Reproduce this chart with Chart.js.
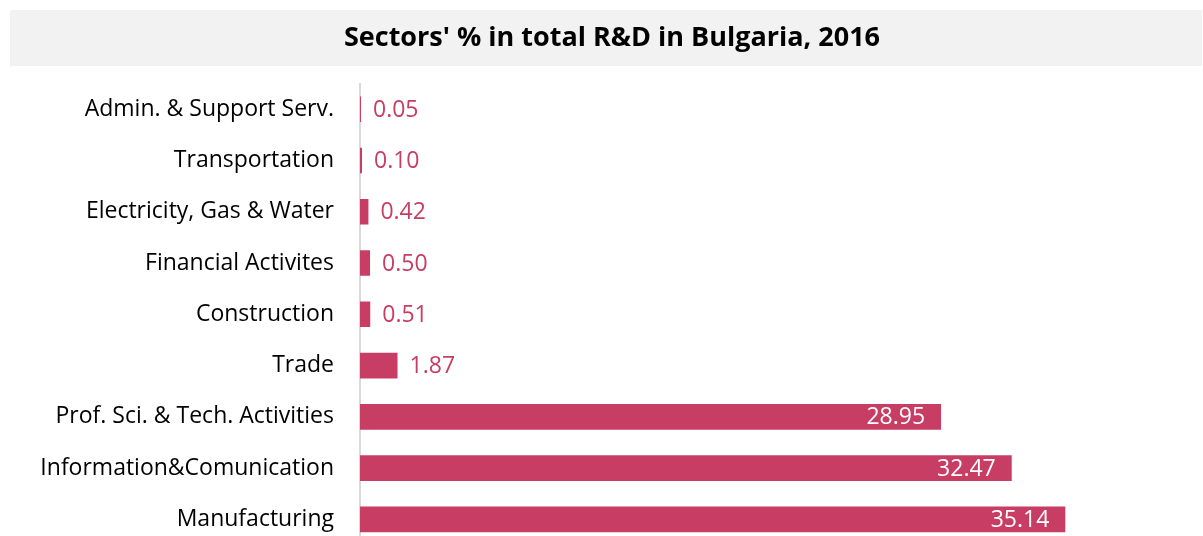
<!DOCTYPE html>
<html>
<head>
<meta charset="utf-8">
<script src="https://cdn.jsdelivr.net/npm/chart.js@4.4.1/dist/chart.umd.min.js"></script>
<style>
  html, body { margin: 0; padding: 0; background: #ffffff; }
  #frame { width: 1203px; height: 536px; overflow: hidden; position: relative; }
  #chart { position: absolute; left: 0; top: 0; }
</style>
</head>
<body>
<div id="frame"><canvas id="chart" width="1203" height="546"></canvas></div>
<script>
// Share of each sector in total business R&D, Bulgaria 2016 (%)
const sectors = [
  "Admin. & Support Serv.",
  "Transportation",
  "Electricity, Gas & Water",
  "Financial Activites",
  "Construction",
  "Trade",
  "Prof. Sci. & Tech. Activities",
  "Information&Comunication",
  "Manufacturing"
];
const shares = [0.05, 0.10, 0.42, 0.50, 0.51, 1.87, 28.95, 32.47, 35.14];
const titleText = "Sectors' % in total R&D in Bulgaria, 2016";

const BAR = '#C83D64';
const FONT = "'Open Sans', 'DejaVu Sans', sans-serif";

// Light grey band behind the title
const titleBand = {
  id: 'titleBand',
  beforeDraw(chart) {
    const ctx = chart.ctx;
    ctx.save();
    ctx.fillStyle = '#F2F2F2';
    ctx.fillRect(10, 10, 1192, 56);
    ctx.restore();
  }
};

// Value labels: white inside long bars, bar colour just past short ones
const valueLabels = {
  id: 'valueLabels',
  afterDatasetsDraw(chart) {
    const ctx = chart.ctx;
    const meta = chart.getDatasetMeta(0);
    const data = chart.data.datasets[0].data;
    ctx.save();
    ctx.font = '23px ' + FONT;
    ctx.textBaseline = 'middle';
    meta.data.forEach((bar, i) => {
      const v = data[i];
      const label = v.toFixed(2);
      if (v > 10) {
        ctx.fillStyle = '#ffffff';
        ctx.textAlign = 'right';
        ctx.fillText(label, bar.x - 16, bar.y + 1);
      } else {
        ctx.fillStyle = BAR;
        ctx.textAlign = 'left';
        ctx.fillText(label, bar.x + 12, bar.y + 1);
      }
    });
    ctx.restore();
  }
};

new Chart(document.getElementById('chart'), {
  type: 'bar',
  data: {
    labels: sectors,
    datasets: [{
      data: shares,
      backgroundColor: BAR,
      borderWidth: 0,
      barPercentage: 0.5,
      categoryPercentage: 1.0
    }]
  },
  options: {
    indexAxis: 'y',
    responsive: false,
    maintainAspectRatio: false,
    animation: false,
    devicePixelRatio: 1,
    layout: { padding: { top: 10, left: 21, right: 0, bottom: 1 } },
    plugins: {
      legend: { display: false },
      tooltip: { enabled: false },
      title: {
        display: true,
        text: titleText,
        color: '#000000',
        font: { family: FONT, size: 27, weight: 'bold', lineHeight: 1.2 },
        padding: { top: 11.8, bottom: 29.4 }
      }
    },
    scales: {
      x: {
        display: false,
        min: 0,
        max: 42
      },
      y: {
        afterFit(scale) {
          scale.width = 339;
          // let the first and last rows sit flush with the plot edges
          scale.paddingTop = 0;
          scale.paddingBottom = 0;
        },
        grid: { display: false, drawTicks: false },
        border: { display: true, color: '#D9D9D9', width: 2 },
        ticks: {
          color: '#000000',
          padding: 26,
          font: { family: FONT, size: 23 }
        }
      }
    }
  },
  plugins: [titleBand, valueLabels]
});
</script>
</body>
</html>
